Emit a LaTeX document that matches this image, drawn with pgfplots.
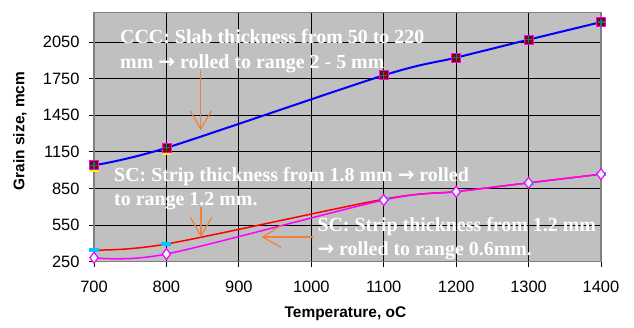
\documentclass[border=0pt]{standalone}
\usepackage{fontspec}
\setmainfont{Liberation Serif}
\newfontfamily\arial{Liberation Sans}
\newfontfamily\djv{DejaVu Sans}
\usepackage{pgfplots}
\pgfplotsset{compat=1.18}

\definecolor{plotbg}{RGB}{192,192,192}
\definecolor{frame}{RGB}{128,128,128}
\definecolor{darkred}{RGB}{128,0,0}
\definecolor{tealc}{RGB}{0,128,128}
\definecolor{mag}{RGB}{255,0,255}
\definecolor{lcyan}{RGB}{220,255,255}
\definecolor{dash}{RGB}{0,200,255}
\definecolor{arr}{RGB}{240,128,64}
\definecolor{blueline}{RGB}{0,0,255}

\newcommand{\note}{\bfseries\color{white}\fontsize{20}{25}\selectfont}
\newcommand{\arrowsym}{{\djv\bfseries →}}

\begin{document}
\begin{tikzpicture}[x=1bp,y=1bp]
\useasboundingbox (-94,-65.3) rectangle (540,261.7);
\begin{axis}[
  at={(0,0)}, anchor=south west,
  scale only axis, width=507bp, height=249bp,
  xmin=700, xmax=1400, ymin=250, ymax=2290,
  xtick={700,800,...,1400},
  ytick={250,550,...,2050},
  grid=major,
  major grid style={black, line width=0.9bp},
  axis background/.style={fill=plotbg},
  axis line style={draw=frame, line width=1.5bp},
  tick pos=left, tick align=outside,
  major tick length=5bp,
  tick style={black, line width=0.9bp},
  ticklabel style={font=\arial\fontsize{16.5}{18}\selectfont},
  xticklabel style={yshift=-11bp},
  yticklabel style={xshift=-6bp},
  /pgf/number format/assume math mode=true,
  /pgf/number format/1000 sep={},
  xlabel={Temperature, oC},
  ylabel={Grain size, mcm},
  label style={font=\arial\bfseries\fontsize{15.5}{17}\selectfont},
  xlabel style={at={(axis description cs:0.496,-0.21)}, anchor=center},
  ylabel style={at={(axis description cs:-0.146,0.525)}, anchor=center},
  clip=false,
]
% CCC series: helper markers and the smoothed blue line
\addplot[draw=none, mark=square*, mark size=4bp,
  mark options={fill=yellow, draw=yellow}]
  coordinates {(700,1022) (800,1166)};
\addplot[draw=none, mark=square*, mark size=4.5bp,
  mark options={fill=darkred, draw=mag, line width=0.8bp}]
  coordinates {(700,1040) (800,1183) (1100,1777) (1200,1922) (1300,2069) (1400,2213)};
\addplot[draw=none, mark=+, mark size=3.5bp,
  mark options={draw=tealc, line width=1.2bp}]
  coordinates {(700,1040) (800,1183) (1100,1777) (1200,1922) (1300,2069) (1400,2213)};
\addplot[blueline, line width=2bp, smooth]
  coordinates {(700,1040) (800,1183) (1100,1777) (1200,1922) (1300,2069) (1400,2213)};
% SC 1.8 mm -> 1.2 mm
\addplot[red, line width=1.5bp, smooth, mark=-, mark size=5bp,
  mark options={draw=dash, line width=3.5bp}]
  coordinates {(700,346) (800,395) (1100,762) (1200,825) (1300,896) (1400,967)};
% SC 1.2 mm -> 0.6 mm
\addplot[mag, line width=1.5bp, smooth, mark=diamond*, mark size=5.5bp,
  mark options={fill=lcyan, draw=mag, line width=1.2bp}]
  coordinates {(700,283) (800,313) (1100,755) (1200,823) (1300,896) (1400,967)};
\end{axis}

% annotations
\node[anchor=base west, inner sep=0] at (26,218.4) {\note CCC: Slab thickness from 50 to 220};
\node[anchor=base west, inner sep=0] at (26,193.4) {\note mm \arrowsym{} rolled to range 2 - 5 mm};
\node[anchor=base west, inner sep=0] at (20,80) {\note SC: Strip thickness from 1.8 mm \arrowsym{} rolled};
\node[anchor=base west, inner sep=0] at (20,56.7) {\note to range 1.2 mm.};
\node[anchor=base west, inner sep=0] at (223.3,30) {\note SC: Strip thickness from 1.2 mm};
\node[anchor=base west, inner sep=0] at (223.3,6.7) {\note \arrowsym{} rolled to range 0.6mm.};

\begin{scope}[draw=arr, line width=1.2bp, line cap=round, line join=round]
  \draw (106.7,191) -- (106.7,132.7);
  \draw (96.3,150.7) -- (106.7,132.7) -- (117.3,150.7);
  \draw (107,54.4) -- (107,25.7);
  \draw (96.3,44.4) -- (107,25.7) -- (117.7,44.4);
  \draw (219,24.7) -- (168.7,24.7);
  \draw (186.7,36) -- (168.7,24.7) -- (186.7,14.4);
\end{scope}
\end{tikzpicture}
\end{document}
